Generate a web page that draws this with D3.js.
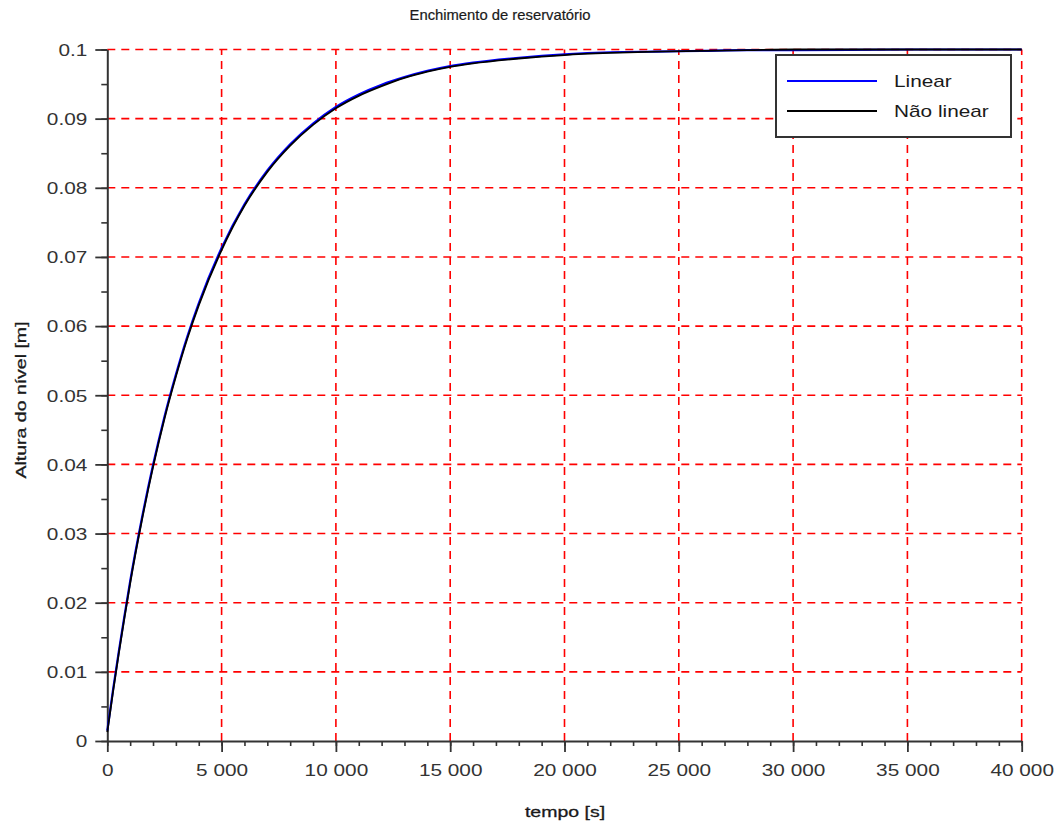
<!DOCTYPE html>
<html>
<head>
<meta charset="utf-8">
<script src="https://cdn.jsdelivr.net/npm/d3@7"></script>
<style>
  html, body { margin: 0; padding: 0; background: #fff; }
  svg { display: block; }
  text { font-family: "Liberation Sans", Arial, sans-serif; }
</style>
</head>
<body>
<svg id="chart" width="1062" height="826"></svg>
<script>
// ---- data ----
const timeS = [0, 250, 500, 750, 1000, 1500, 2000, 2500, 3000, 3500, 4000, 5000, 6000, 7000, 8000, 9000, 10000, 11000, 12000, 13000, 14000, 15000, 16000, 18000, 20000, 22000, 24000, 26000, 28000, 30000, 35000, 40000];
const linearH = [0.0015, 0.0074, 0.0129, 0.0181, 0.0231, 0.0320, 0.0399, 0.0469, 0.0530, 0.0585, 0.0633, 0.0713, 0.0776, 0.0825, 0.0863, 0.0893, 0.0917, 0.0935, 0.0949, 0.0960, 0.0969, 0.0976, 0.0981, 0.0988, 0.0993, 0.0996, 0.0997, 0.0998, 0.0999, 0.0999, 0.1, 0.1];
const naoLinearH = [0.0013, 0.0071, 0.0126, 0.0178, 0.0228, 0.0317, 0.0396, 0.0466, 0.0527, 0.0582, 0.0630, 0.0710, 0.0774, 0.0823, 0.0861, 0.0891, 0.0915, 0.0933, 0.0947, 0.0959, 0.0968, 0.0975, 0.0980, 0.0987, 0.0992, 0.0995, 0.0997, 0.0998, 0.0999, 0.1, 0.1, 0.1];
const seriesNames = ["Linear", "Não linear"];
const seriesColors = ["#0000ff", "#000000"];
const xTickValues = [0, 5000, 10000, 15000, 20000, 25000, 30000, 35000, 40000];
const xTickLabels = ["0", "5 000", "10 000", "15 000", "20 000", "25 000", "30 000", "35 000", "40 000"];
const yTickValues = [0, 0.01, 0.02, 0.03, 0.04, 0.05, 0.06, 0.07, 0.08, 0.09, 0.1];
const yTickLabels = ["0", "0.01", "0.02", "0.03", "0.04", "0.05", "0.06", "0.07", "0.08", "0.09", "0.1"];
const xMinorTicks = d3.range(0, 40001, 1000);
const yMinorTicks = d3.range(0, 21).map(i => i * 0.005);
const chartTitle = "Enchimento de reservatório";
const xTitle = "tempo [s]";
const yTitle = "Altura do nível [m]";

// ---- layout ----
const SX = 1.3; // horizontal stretch of the reference lettering
const svg = d3.select("#chart");
const x = d3.scaleLinear().domain([0, 40000]).range([107.3, 1021.7]);
const y = d3.scaleLinear().domain([0, 0.1]).range([741, 49.5]);
const axisColor = "#333";

function stretchedText(parent, tx, ty, str, size, anchor, rot, sx) {
  return parent.append("text")
    .attr("transform", `translate(${tx},${ty})` + (rot ? ` rotate(${rot})` : "") + ` scale(${sx || SX},1)`)
    .attr("text-anchor", anchor)
    .attr("font-size", size)
    .attr("fill", "#1a1a1a")
    .text(str);
}

// grid
const grid = svg.append("g").attr("stroke", "#ff0000").attr("stroke-width", 1.6).attr("stroke-dasharray", "8,6").attr("fill", "none");
grid.selectAll("line.v").data(xTickValues.filter(v => v > 0)).join("line")
  .attr("class", "v")
  .attr("x1", d => x(d)).attr("x2", d => x(d))
  .attr("y1", y(0)).attr("y2", y(0.1));
grid.selectAll("line.h").data(yTickValues.filter(v => v > 0)).join("line")
  .attr("class", "h")
  .attr("x1", x(0)).attr("x2", x(40000))
  .attr("y1", d => y(d)).attr("y2", d => y(d));

// axes (minor ticks)
svg.append("g").attr("transform", `translate(0,${y(0)})`)
  .call(d3.axisBottom(x).tickValues(xMinorTicks).tickSize(5).tickFormat(""))
  .call(g => g.select(".domain").remove())
  .call(g => g.selectAll("line").attr("stroke", axisColor).attr("stroke-width", 1.6));
svg.append("g").attr("transform", `translate(${x(0)},0)`)
  .call(d3.axisLeft(y).tickValues(yMinorTicks).tickSize(6).tickFormat(""))
  .call(g => g.select(".domain").remove())
  .call(g => g.selectAll("line").attr("stroke", axisColor).attr("stroke-width", 1.6));

// axes (major ticks + labels)
const xAxis = svg.append("g").attr("transform", `translate(0,${y(0)})`)
  .call(d3.axisBottom(x).tickValues(xTickValues).tickSize(11).tickSizeOuter(0)
    .tickFormat((d, i) => xTickLabels[i]));
xAxis.select(".domain").attr("stroke", axisColor).attr("stroke-width", 2);
xAxis.selectAll(".tick line").attr("stroke", axisColor).attr("stroke-width", 1.8);
xAxis.selectAll(".tick text")
  .attr("y", 35).attr("dy", 0)
  .attr("font-size", 16).attr("fill", "#333")
  .attr("transform", `scale(${SX},1)`);

const yAxis = svg.append("g").attr("transform", `translate(${x(0)},0)`)
  .call(d3.axisLeft(y).tickValues(yTickValues).tickSize(12).tickSizeOuter(0)
    .tickFormat((d, i) => yTickLabels[i]));
yAxis.select(".domain").attr("stroke", axisColor).attr("stroke-width", 2);
yAxis.selectAll(".tick line").attr("stroke", axisColor).attr("stroke-width", 1.8);
yAxis.selectAll(".tick text")
  .attr("x", -20 / SX).attr("dy", "0.36em")
  .attr("font-size", 16).attr("fill", "#333")
  .attr("transform", `scale(${SX},1)`);
svg.selectAll(".tick text").attr("font-family", "Liberation Sans, Arial, sans-serif");

// curves
const line = d3.line().x(d => x(d[0])).y(d => y(d[1])).curve(d3.curveMonotoneX);
const series = [linearH, naoLinearH];
series.forEach((vals, i) => {
  svg.append("path")
    .datum(timeS.map((t, k) => [t, vals[k]]))
    .attr("fill", "none")
    .attr("stroke", seriesColors[i])
    .attr("stroke-width", i === 0 ? 2.2 : 1.8)
    .attr("d", line);
});

// titles
stretchedText(svg, 500, 20, chartTitle, 14.8, "middle", 0, 1.0).attr("stroke", "#1a1a1a").attr("stroke-width", 0.2);
stretchedText(svg, 565, 817, xTitle, 15, "middle").attr("stroke", "#1a1a1a").attr("stroke-width", 0.3);
stretchedText(svg, 26, 400, yTitle, 15, "middle", -90).attr("stroke", "#1a1a1a").attr("stroke-width", 0.3);

// legend
const lg = svg.append("g");
lg.append("rect").attr("x", 776).attr("y", 55).attr("width", 235).attr("height", 82)
  .attr("fill", "#fff").attr("stroke", axisColor).attr("stroke-width", 2);
seriesNames.forEach((name, i) => {
  const ly = 81 + i * 30;
  lg.append("line").attr("x1", 787).attr("x2", 877).attr("y1", ly).attr("y2", ly)
    .attr("stroke", seriesColors[i]).attr("stroke-width", 2);
  stretchedText(lg, 894, ly + 5.5, name, 16, "start");
});
</script>
</body>
</html>
